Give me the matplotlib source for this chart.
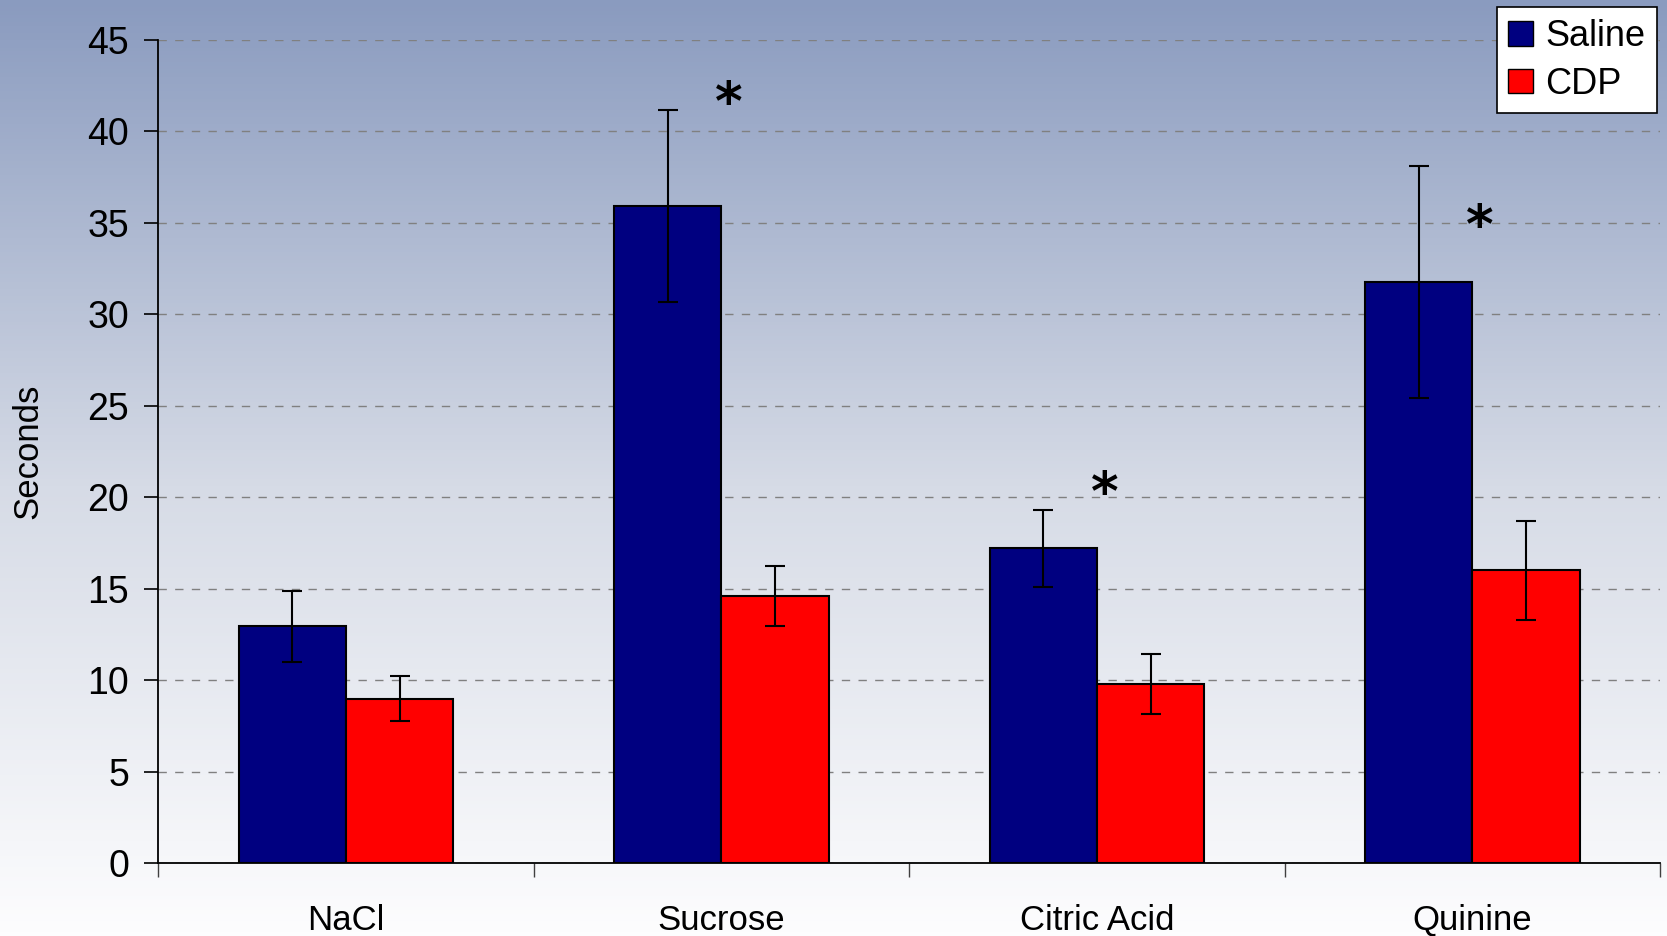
import numpy as np
import matplotlib
matplotlib.use("Agg")
import matplotlib.pyplot as plt
from matplotlib.colors import LinearSegmentedColormap
from matplotlib.patches import Patch

plt.rcParams['font.family'] = ['Liberation Sans', 'DejaVu Sans']

# ---- data ----
tastants = ["NaCl", "Sucrose", "Citric Acid", "Quinine"]
saline = [12.95, 35.9, 17.2, 31.75]
saline_err = [1.95, 5.25, 2.1, 6.35]
cdp = [9.0, 14.6, 9.8, 16.0]
cdp_err = [1.25, 1.65, 1.65, 2.7]
# significance markers: (category index, y position)
stars = [(1, 41.4), (2, 20.1), (3, 34.7)]

fig = plt.figure(figsize=(16.67, 9.36), dpi=100)

# background gradient across the whole figure
bg = LinearSegmentedColormap.from_list(
    "bg", [(0.0, "#8a9bbf"), (0.52, "#d6dbe6"), (1.0, "#fdfdfe")])
bgax = fig.add_axes([0, 0, 1, 1], zorder=0)
bgax.imshow(np.linspace(0, 1, 256).reshape(-1, 1), aspect="auto", cmap=bg,
            extent=[0, 1, 0, 1])
bgax.axis("off")

ax = fig.add_axes([0.095, 0.0777, 0.9008, 0.880], zorder=1)
ax.patch.set_alpha(0)

x = np.arange(len(tastants))
w = 0.286
ekw = dict(ecolor="black", elinewidth=1.5, capsize=7, capthick=1.5)
ax.bar(x - w / 2, saline, w, color="#000080", edgecolor="black", linewidth=1.5,
       yerr=saline_err, error_kw=ekw, label="Saline", zorder=3)
ax.bar(x + w / 2, cdp, w, color="#ff0000", edgecolor="black", linewidth=1.5,
       yerr=cdp_err, error_kw=ekw, label="CDP", zorder=3)

for i, y in stars:
    ax.text(i + 0.02, y, "*", ha="center", va="center", fontsize=38,
            fontweight="bold", family="DejaVu Sans", zorder=4)

ax.set_xlim(-0.5, len(tastants) - 0.5)
ax.set_ylim(0, 45)
ax.set_yticks(np.arange(0, 46, 5))
ax.yaxis.grid(True, linestyle=(0, (6, 6)), color="#808080", linewidth=1)
ax.set_axisbelow(True)

ax.set_xticks(x)
ax.set_xticklabels(tastants)
ax.set_xticks(np.arange(-0.5, len(tastants)), minor=True)
ax.tick_params(axis="x", which="major", length=0, pad=29, labelsize=25)
ax.tick_params(axis="x", which="minor", length=10, width=1, color="#404040")
ax.tick_params(axis="y", length=10, width=1.2, labelsize=27, pad=11)

for s in ["top", "right"]:
    ax.spines[s].set_visible(False)
ax.spines["left"].set_linewidth(1.3)
ax.spines["bottom"].set_linewidth(1.3)

ax.set_ylabel("Seconds", fontsize=25)
ax.yaxis.set_label_coords(-0.0762, 0.5)

handles = [Patch(facecolor="#000080", edgecolor="black", label="Saline"),
           Patch(facecolor="#ff0000", edgecolor="black", label="CDP")]
leg = ax.legend(handles=handles, loc="upper right", bbox_to_anchor=(0.998, 1.039),
                borderaxespad=0, fontsize=26, frameon=True, fancybox=False,
                framealpha=1, edgecolor="black", handlelength=0.68,
                handleheight=0.68, handletextpad=0.35, borderpad=0.32,
                labelspacing=0.35)
leg.get_frame().set_linewidth(1.2)

fig.savefig("out.png", dpi=100)
